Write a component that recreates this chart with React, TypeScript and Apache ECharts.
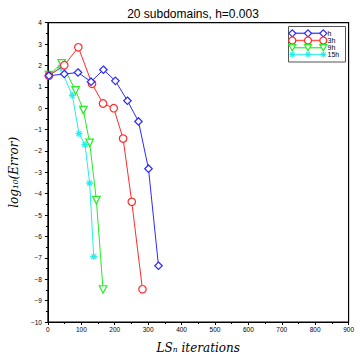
import React, { useEffect, useRef } from "react";
import * as echarts from "echarts";

const seriesNames = ["h", "3h", "9h", "15h"];
const colors = ["#2a2aff", "#ff2a2a", "#22ee22", "#22eeee"];

const hX = [3, 49, 90, 129, 166, 202, 238, 271, 301, 331];
const hY = [1.52, 1.6, 1.67, 1.24, 1.8, 1.28, 0.35, -0.62, -2.83, -7.37];

const h3X = [3, 49, 91, 132, 165, 197, 225, 251, 283];
const h3Y = [1.52, 2.01, 2.85, 1.14, 0.22, 0.0, -1.42, -4.38, -8.47];

const h9X = [3, 41, 83, 106, 125, 145, 165];
const h9Y = [1.55, 2.1, 0.83, -0.09, -1.62, -4.3, -8.48];

const h15X = [2, 37, 73, 93, 111, 125, 137];
const h15Y = [1.52, 1.9, 0.6, -1.19, -1.7, -3.5, -6.94];

const asteriskPath =
  "path://M10,0L10,20M0,10L20,10M2.9,2.9L17.1,17.1M2.9,17.1L17.1,2.9";

const symbols = ["diamond", "circle", "triangle", asteriskPath];
const rotations = [0, 0, 180, 0];

function pair(xs: number[], ys: number[]) {
  return xs.map((x, i) => [x, ys[i]]);
}

export default function App() {
  const ref = useRef<HTMLDivElement>(null);
  useEffect(() => {
    if (!ref.current) return;
    const chart = echarts.init(ref.current, undefined, { renderer: "svg" });
    const datasets = [pair(hX, hY), pair(h3X, h3Y), pair(h9X, h9Y), pair(h15X, h15Y)];

    const legendRows = [33.3, 40.5, 47.7, 54.5];
    const legendXs = [292.3, 308, 323.3];
    const legendEls: any[] = [
      {
        type: "rect",
        shape: { x: 288.5, y: 26.5, width: 57, height: 35.5 },
        style: { fill: "#fff", stroke: "#555", lineWidth: 1 },
        z: 10,
      },
    ];
    legendRows.forEach((y, i) => {
      const c = colors[i];
      legendEls.push({
        type: "line",
        shape: { x1: legendXs[0], y1: y, x2: legendXs[2], y2: y },
        style: { stroke: c, lineWidth: 1.5, opacity: 0.8 },
        z: 11,
      });
      legendXs.forEach((x) => {
        if (i === 0) {
          legendEls.push({
            type: "polygon",
            shape: { points: [[x, y - 3.5], [x + 3.5, y], [x, y + 3.5], [x - 3.5, y]] },
            style: { fill: "#fff", stroke: c, lineWidth: 1.2 },
            z: 12,
          });
        } else if (i === 1) {
          legendEls.push({
            type: "circle",
            shape: { cx: x, cy: y, r: 3.5 },
            style: { fill: "#fff", stroke: c, lineWidth: 1.2 },
            z: 12,
          });
        } else if (i === 2) {
          legendEls.push({
            type: "polygon",
            shape: { points: [[x - 3.5, y - 3], [x + 3.5, y - 3], [x, y + 3]] },
            style: { fill: "#fff", stroke: c, lineWidth: 1.2 },
            z: 12,
          });
        } else {
          const r = 3;
          const d = 2.1;
          const segs = [
            [x, y - r, x, y + r],
            [x - r, y, x + r, y],
            [x - d, y - d, x + d, y + d],
            [x - d, y + d, x + d, y - d],
          ];
          segs.forEach((s) =>
            legendEls.push({
              type: "line",
              shape: { x1: s[0], y1: s[1], x2: s[2], y2: s[3] },
              style: { stroke: c, lineWidth: 1.2 },
              z: 12,
            })
          );
        }
      });
      legendEls.push({
        type: "text",
        x: 327.5,
        y: y,
        style: {
          text: seriesNames[i],
          fontSize: 7,
          fontFamily: "Liberation Sans",
          fill: "#000",
          verticalAlign: "middle",
          align: "left",
        },
        z: 12,
      });
    });

    chart.setOption({
      animation: false,
      backgroundColor: "#fff",
      title: {
        text: "20 subdomains, h=0.003",
        left: 188,
        top: 3,
        textAlign: "center",
        textStyle: { fontSize: 12, fontWeight: "normal", fontFamily: "Liberation Sans", color: "#000" },
      },
      grid: {
        left: 43.5,
        right: 8,
        top: 22.7,
        bottom: 31.7,
        show: true,
        borderColor: "#000",
        borderWidth: 1.2,
        backgroundColor: "#fff",
      },
      xAxis: {
        type: "value",
        min: 0,
        max: 900,
        interval: 100,
        name: "LSₙ iterations",
        nameLocation: "middle",
        nameGap: 20,
        nameTextStyle: { fontFamily: "DejaVu Serif", fontStyle: "italic", fontSize: 12, color: "#000" },
        axisLine: { show: true, onZero: false, lineStyle: { color: "#000", width: 1 } },
        axisTick: { show: true, length: 3, lineStyle: { color: "#000" } },
        minorTick: { show: true, splitNumber: 2, length: 2, lineStyle: { color: "#000" } },
        splitLine: { show: false },
        axisLabel: { fontSize: 6.5, fontFamily: "Liberation Sans", color: "#000", margin: 4 },
      },
      yAxis: {
        type: "value",
        min: -10,
        max: 4,
        interval: 1,
        name: "log₁₀(Error)",
        nameLocation: "middle",
        nameGap: 24,
        nameRotate: 90,
        nameTextStyle: { fontFamily: "DejaVu Serif", fontStyle: "italic", fontSize: 12, color: "#000" },
        axisLine: { show: true, onZero: false, lineStyle: { color: "#000", width: 1 } },
        axisTick: { show: true, length: 3, lineStyle: { color: "#000" } },
        minorTick: { show: true, splitNumber: 2, length: 2, lineStyle: { color: "#000" } },
        splitLine: { show: false },
        axisLabel: {
          fontSize: 6.5,
          fontFamily: "Liberation Sans",
          color: "#000",
          margin: 6,
          formatter: (v: number) => (v < 0 ? "\u2212" + Math.abs(v) : String(v)),
        },
      },
      series: datasets.map((d, i) => ({
        name: seriesNames[i],
        type: "line",
        data: d,
        symbol: symbols[i],
        symbolRotate: rotations[i],
        symbolSize: i === 3 ? 7 : 7.5,
        lineStyle: { color: colors[i], width: 1 },
        itemStyle: { color: i === 3 ? colors[i] : "#fff", borderColor: colors[i], borderWidth: 1.2 },
        z: 5 - i,
      })),
      graphic: legendEls,
    });
    return () => chart.dispose();
  }, []);
  return (
    <div
      ref={ref}
      style={{ position: "absolute", left: 0, top: 0, width: 357, height: 359 }}
    />
  );
}
